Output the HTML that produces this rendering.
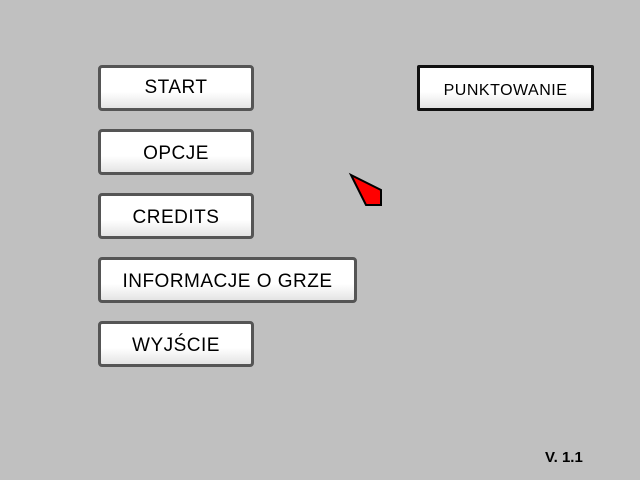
<!DOCTYPE html>
<html><head><style>
body{margin:0;width:640px;height:480px;background:#c0c0c0;position:relative;overflow:hidden;font-family:"Liberation Sans",sans-serif}
.b{position:absolute;box-sizing:border-box;border:3px solid #555;border-radius:4px;background:linear-gradient(#fff 0%,#fff 60%,#e4e4e4 100%);text-align:center;font-size:19px;color:#000;letter-spacing:0.5px}
</style></head><body>
<div class="b" style="left:98px;top:65px;width:156px;height:46px;line-height:40px">START</div>
<div class="b" style="left:98px;top:129px;width:156px;height:46px;line-height:44px">OPCJE</div>
<div class="b" style="left:98px;top:193px;width:156px;height:46px;line-height:44px">CREDITS</div>
<div class="b" style="left:98px;top:257px;width:259px;height:46px;line-height:44px">INFORMACJE O GRZE</div>
<div class="b" style="left:98px;top:321px;width:156px;height:46px;line-height:44px">WYJŚCIE</div>
<div class="b" style="left:417px;top:65px;width:177px;height:46px;line-height:46px;border-color:#111;border-radius:2px;font-size:16px">PUNKTOWANIE</div>
<svg style="position:absolute;left:0;top:0" width="640" height="480"><polygon points="351,175 381,190 381,205 366,205" fill="#f00" stroke="#000" stroke-width="2"/></svg>
<div style="position:absolute;left:545px;top:449px;font-size:15px;font-weight:bold">V. 1.1</div>
</body></html>
